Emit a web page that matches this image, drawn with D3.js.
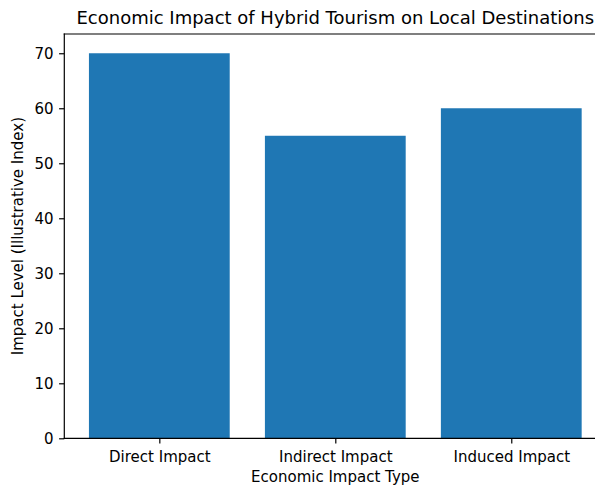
<!DOCTYPE html>
<html>
<head>
<meta charset="utf-8">
<script src="https://cdn.jsdelivr.net/npm/d3@7"></script>
<style>
  body { margin: 0; background: #fff; }
  svg { display: block; font-family: "DejaVu Sans", sans-serif; }
  .axis text { font-family: "DejaVu Sans", sans-serif; font-size: 15px; fill: #000; }
  .axis line { stroke: #000; stroke-width: 1.2; }
</style>
</head>
<body>
<svg id="chart" width="595" height="486"></svg>
<script>
// chart data
const categories = ["Direct Impact", "Indirect Impact", "Induced Impact"];
const impactValues = [70, 55, 60];
const yTicks = [0, 10, 20, 30, 40, 50, 60, 70];

const margin = { top: 34, left: 64.3, plotW: 542, plotH: 404.3 };
const barColor = "#1f77b4";

const svg = d3.select("#chart");
const g = svg.append("g").attr("transform", `translate(${margin.left},${margin.top})`);

// matplotlib-like limits: bars of width 0.8 with 5% margins
const xScale = d3.scaleLinear().domain([-0.54, 2.54]).range([0, margin.plotW]);
const yScale = d3.scaleLinear().domain([0, 73.5]).range([margin.plotH, 0]);

g.selectAll("rect.bar")
  .data(impactValues)
  .enter()
  .append("rect")
  .attr("class", "bar")
  .attr("x", (d, i) => xScale(i - 0.4))
  .attr("width", xScale(0.8) - xScale(0))
  .attr("y", d => yScale(d))
  .attr("height", d => yScale(0) - yScale(d))
  .attr("fill", barColor);

// axes
const yAxis = d3.axisLeft(yScale).tickValues(yTicks).tickSize(5.2).tickPadding(5.5).tickSizeOuter(0);
const xAxis = d3.axisBottom(xScale)
  .tickValues(categories.map((c, i) => i))
  .tickFormat(i => categories[i])
  .tickSize(5.2).tickPadding(7.5).tickSizeOuter(0);

g.append("g").attr("class", "axis").call(yAxis);
g.append("g").attr("class", "axis")
  .attr("transform", `translate(0,${margin.plotH})`)
  .call(xAxis);

g.selectAll(".axis .domain").remove();

// spines (right one falls just outside the picture)
const spines = [
  [0, 0, 0, margin.plotH],
  [0, margin.plotH, margin.plotW, margin.plotH],
  [0, 0, margin.plotW, 0],
  [margin.plotW, 0, margin.plotW, margin.plotH]
];
g.selectAll("line.spine")
  .data(spines)
  .enter()
  .append("line")
  .attr("class", "spine")
  .attr("x1", d => d[0]).attr("y1", d => d[1])
  .attr("x2", d => d[2]).attr("y2", d => d[3])
  .attr("stroke", "#000")
  .attr("stroke-width", 1.2)
  .attr("stroke-linecap", "square");

// labels
g.append("text")
  .attr("x", margin.plotW / 2)
  .attr("y", -10)
  .attr("text-anchor", "middle")
  .attr("font-size", 18)
  .attr("fill", "#000")
  .text("Economic Impact of Hybrid Tourism on Local Destinations");

g.append("text")
  .attr("x", margin.plotW / 2)
  .attr("y", margin.plotH + 44)
  .attr("text-anchor", "middle")
  .attr("font-size", 15)
  .attr("fill", "#000")
  .text("Economic Impact Type");

g.append("text")
  .attr("transform", "rotate(-90)")
  .attr("x", -margin.plotH / 2)
  .attr("y", -41)
  .attr("text-anchor", "middle")
  .attr("font-size", 15)
  .attr("fill", "#000")
  .text("Impact Level (Illustrative Index)");
</script>
</body>
</html>
